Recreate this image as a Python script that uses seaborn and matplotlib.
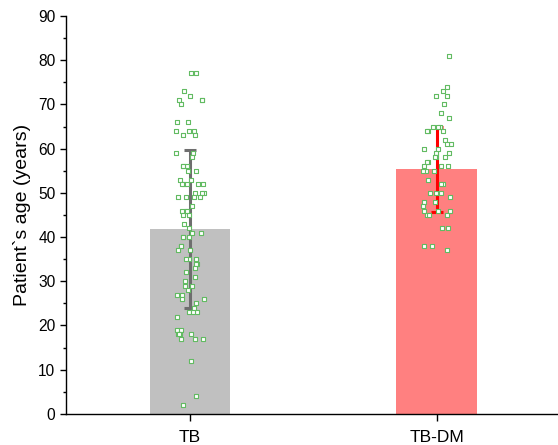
import numpy as np
import pandas as pd
import seaborn as sns
import matplotlib.pyplot as plt
from matplotlib.ticker import MultipleLocator

# group labels and summary values (mean, sd)
groups = ["TB", "TB-DM"]
means = [41.9, 55.3]
sds = [17.9, 9.6]

# individual patient ages
tb_ages = [77, 77, 73, 72, 71, 71, 71, 70, 66, 66, 64, 64, 64, 63, 63, 59, 59, 58,
           56, 56, 56, 55, 55, 53, 53, 52, 52, 52, 52, 52, 50, 50, 50, 49, 49, 49, 49,
           47, 46, 46, 46, 45, 45, 43, 42, 41, 41, 40, 40, 40, 38, 38, 37, 37, 35, 35,
           35, 34, 34, 33, 32, 31, 30, 29, 29, 28, 27, 27, 26, 26, 25, 24, 23, 23, 23,
           22, 19, 19, 18, 18, 18, 18, 17, 17, 17, 12, 4, 2]
tbdm_ages = [81, 74, 73, 72, 72, 70, 68, 67, 65, 65, 65, 64, 64, 64, 62, 61, 61, 60,
             60, 59, 59, 58, 58, 58, 57, 57, 56, 56, 56, 55, 55, 55, 53, 52, 52, 50, 50,
             50, 49, 48, 48, 47, 46, 46, 46, 45, 45, 45, 42, 42, 38, 38, 37]

bar_colors = ["#c0c0c0", "#ff8080"]
err_colors = ["#6e6e6e", "#ff0000"]

sns.set_theme(style="ticks")
plt.rcParams['font.family'] = ['Liberation Sans', 'DejaVu Sans']

fig = plt.figure(figsize=(5.58, 4.45), dpi=100)
ax = fig.add_axes([0.118, 0.070, 0.880, 0.894])

summary = pd.DataFrame({"group": groups, "age": means})
sns.barplot(data=summary, x="group", y="age", hue="group", palette=bar_colors,
            width=0.325, saturation=1, legend=False, ax=ax, zorder=1, linewidth=0)

for i, (m, s) in enumerate(zip(means, sds)):
    ax.errorbar(i, m, yerr=s, color=err_colors[i], elinewidth=2.2, capsize=4.3,
                capthick=2.2, zorder=2)

points = pd.DataFrame({
    "group": ["TB"] * len(tb_ages) + ["TB-DM"] * len(tbdm_ages),
    "age": tb_ages + tbdm_ages,
})
np.random.seed(3)
sns.stripplot(data=points, x="group", y="age", order=groups, jitter=0.06,
              marker="s", size=3, color="white", edgecolor="#62bb62", linewidth=0.8,
              ax=ax, zorder=3)

ax.set_xlim(-0.503, 1.488)
ax.set_ylim(0, 90)
ax.yaxis.set_major_locator(MultipleLocator(10))
ax.yaxis.set_minor_locator(MultipleLocator(5))
ax.tick_params(axis="y", which="major", length=4.5, width=1, color="black",
               labelsize=11.2, labelcolor="black", pad=3)
ax.tick_params(axis="x", which="major", length=5, width=1, color="black",
               labelsize=12.5, labelcolor="black", pad=6.5)
ax.tick_params(axis="y", which="minor", length=2.5, width=1, color="black")
ax.set_xlabel("")
ax.set_ylabel("Patient`s age (years)", fontsize=14, color="black", labelpad=5)
sns.despine(ax=ax)
for sp in ["left", "bottom"]:
    ax.spines[sp].set_color("black")
    ax.spines[sp].set_linewidth(1)

fig.savefig("out.png", dpi=100)
